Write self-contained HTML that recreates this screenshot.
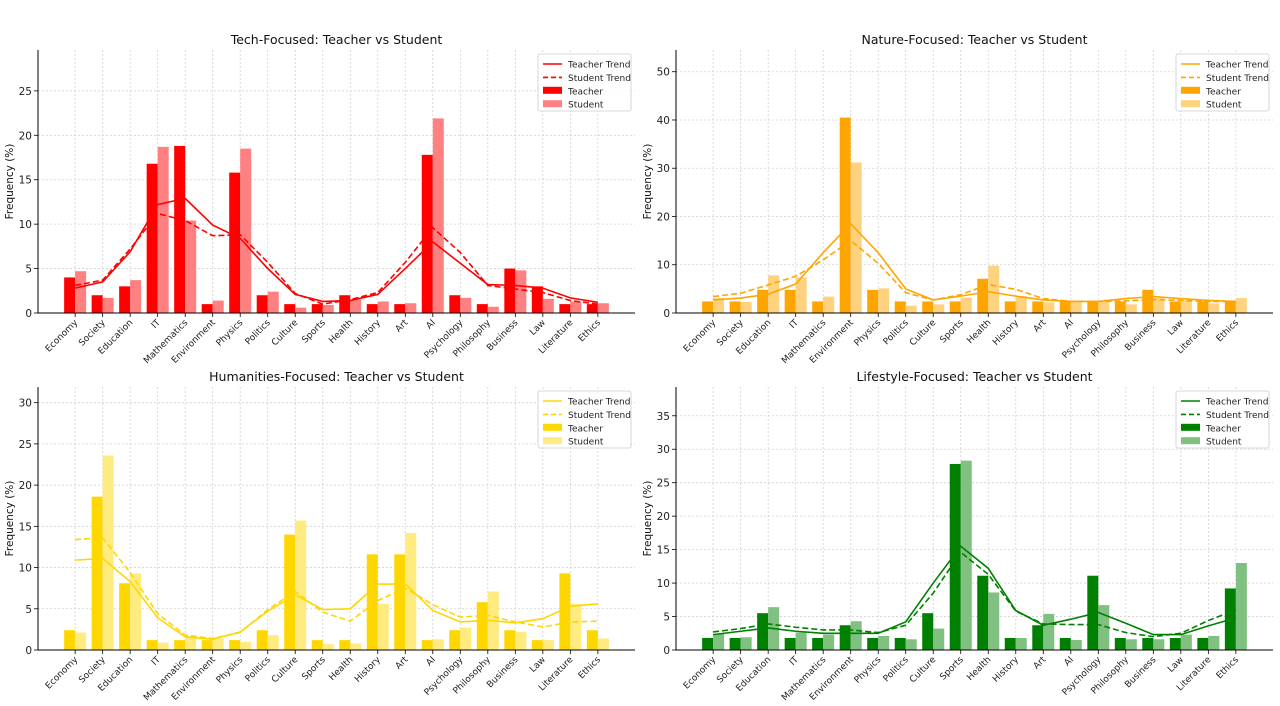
<!DOCTYPE html>
<html><head><meta charset="utf-8"><style>
body{margin:0;background:#fff;}
svg{display:block;font-family:"DejaVu Sans","Liberation Sans",sans-serif;}
</style></head><body>
<svg id="chart" width="1280" height="706" viewBox="0 0 1280 706"></svg>
<script>
const categories=["Economy","Society","Education","IT","Mathematics","Environment","Physics","Politics","Culture","Sports","Health","History","Art","AI","Psychology","Philosophy","Business","Law","Literature","Ethics"];
const techTeacher=[4,2,3,16.8,18.8,1,15.8,2,1,1,2,1,1,17.8,2,1,5,3,1,1];
const techStudent=[4.7,1.7,3.7,18.7,10.4,1.4,18.5,2.4,0.6,0.9,1.5,1.3,1.1,21.9,1.7,0.7,4.8,1.6,1.3,1.1];
const techTeacherTrend=[2.8,3.5,6.9,12.2,12.9,9.9,8.4,5.0,2.1,1.3,1.4,2.1,5.0,8.0,5.6,3.2,3.1,2.8,1.7,1.2];
const techStudentTrend=[3.1,3.7,7.2,11.2,10.4,8.7,8.8,5.7,2.2,1.0,1.5,2.3,5.7,9.6,6.8,3.1,2.7,2.3,1.4,1.0];
const natTeacher=[2.4,2.4,4.8,4.8,2.4,40.5,4.8,2.4,2.4,2.4,7.1,2.4,2.4,2.4,2.4,2.4,4.8,2.4,2.4,2.4];
const natStudent=[3.1,2.3,7.8,7.4,3.4,31.2,5.1,1.5,1.8,3.2,9.8,3.5,2.2,2.2,2.3,1.8,3.1,2.6,2.0,3.1];
const natTeacherTrend=[2.7,3.1,3.9,6.0,12.5,18.5,12.5,5.0,2.7,3.5,4.4,3.5,2.7,2.4,2.4,3.0,3.4,3.0,2.6,2.4];
const natStudentTrend=[3.4,4.1,5.8,7.6,11,15,10.3,4.2,2.7,3.8,5.9,4.9,3.0,2.4,2.4,2.5,2.8,2.6,2.4,2.4];
const humTeacher=[2.4,18.6,8.1,1.2,1.2,1.2,1.2,2.4,14.0,1.2,1.2,11.6,11.6,1.2,2.4,5.8,2.4,1.2,9.3,2.4];
const humStudent=[2.1,23.6,9.3,0.9,1.6,1.4,1.0,1.8,15.7,0.7,0.8,5.6,14.2,1.3,2.7,7.1,2.2,1.2,5.6,1.4];
const humTeacherTrend=[10.9,11.1,8.3,3.9,1.6,1.3,2.2,4.7,6.7,4.9,5.0,8.0,8.0,4.8,3.4,3.6,3.3,3.8,5.3,5.6];
const humStudentTrend=[13.4,13.6,9.4,4.4,1.8,1.4,2.1,4.9,7.1,4.6,3.5,6.0,7.5,5.5,4.0,4.2,3.4,2.8,3.4,3.5];
const lifeTeacher=[1.8,1.8,5.5,1.8,1.8,3.7,1.8,1.8,5.5,27.8,11.1,1.8,3.7,1.8,11.1,1.8,1.8,1.8,1.8,9.2];
const lifeStudent=[2.4,1.9,6.4,2.6,2.3,4.3,2.1,1.6,3.2,28.3,8.6,1.8,5.4,1.5,6.7,1.6,1.6,2.3,2.1,13.0];
const lifeTeacherTrend=[2.3,2.8,3.3,2.8,2.5,2.5,2.5,4.2,10,15.5,12.2,5.9,3.7,4.6,5.6,4.0,2.3,2.3,3.6,4.8];
const lifeStudentTrend=[2.7,3.2,3.9,3.4,3.0,3.0,2.6,3.7,8.5,14.6,11.3,5.8,3.9,3.8,3.8,2.6,2.0,2.5,4.4,6.0];
const techTicks=[0,5,10,15,20,25];
const natTicks=[0,10,20,30,40,50];
const humTicks=[0,5,10,15,20,25,30];
const lifeTicks=[0,5,10,15,20,25,30,35];

const NS="http://www.w3.org/2000/svg";
const svg=document.getElementById('chart');
function mk(tag,attrs,parent){const e=document.createElementNS(NS,tag);for(const k in attrs)e.setAttribute(k,attrs[k]);(parent||svg).appendChild(e);return e;}

function panel(cfg){
  const g=mk('g',{});
  
  
  const L=cfg.x0,R=cfg.x1,T=cfg.y0,B=cfg.y1,ymax=cfg.ymax;
  const n=categories.length;
  const pad=(R-L)/(n-1+2*1.35);
  const xs=i=>L+pad*1.35+i*pad;
  const ys=v=>B-v/ymax*(B-T);
  const bw=pad*0.4;
  categories.forEach((c,i)=>{const l=mk('line',{x1:xs(i),x2:xs(i),y1:T,y2:B,stroke:'#d0d0d0','stroke-width':0.8,'stroke-dasharray':'2,2'},g);
    
    });
  cfg.ticks.forEach(t=>{const y=ys(t);
    const l=mk('line',{x1:L,x2:R,y1:y,y2:y,stroke:'#d0d0d0','stroke-width':0.8,'stroke-dasharray':'2,2'},g);
    
    
    const tk=mk('line',{x1:L-4,x2:L,y1:y,y2:y,stroke:'#000','stroke-width':0.8},g);
    
    
    const tx=mk('text',{x:L-6,y:y+4,'text-anchor':'end','font-size':10.5,fill:'#222'},g);tx.textContent=t;
    
    });
  cfg.teacher.forEach((v,i)=>{const r=mk('rect',{x:xs(i)-bw,y:ys(v),width:bw,height:B-ys(v),fill:cfg.c1},g);
    
    });
  cfg.student.forEach((v,i)=>{const r=mk('rect',{x:xs(i),y:ys(v),width:bw,height:B-ys(v),fill:cfg.c2},g);
    
    });
  const p1=mk('polyline',{points:cfg.tTrend.map((v,i)=>xs(i)+','+ys(v)).join(' '),fill:'none',stroke:cfg.c1,'stroke-width':1.6},g);
  
  
  const p2=mk('polyline',{points:cfg.sTrend.map((v,i)=>xs(i)+','+ys(v)).join(' '),fill:'none',stroke:cfg.c1,'stroke-width':1.6,'stroke-dasharray':'6,3'},g);
  
  
  const sp1=mk('line',{x1:L,x2:L,y1:T,y2:B,stroke:'#000','stroke-width':1},g);
  
  
  const sp2=mk('line',{x1:L,x2:R,y1:B,y2:B,stroke:'#000','stroke-width':1},g);
  
  
  categories.forEach((c,i)=>{
    const tk=mk('line',{x1:xs(i),x2:xs(i),y1:B,y2:B+4,stroke:'#000','stroke-width':0.8},g);
    
    
    const x=xs(i)+3,y=B+10;
    const t=mk('text',{x:x,y:y,'text-anchor':'end','font-size':9,fill:'#222',transform:`rotate(-45 ${x} ${y})`},g);t.textContent=c;
    
    });
  const ti=mk('text',{x:(L+R)/2,y:T-6,'text-anchor':'middle','font-size':12.5,fill:'#111'},g);ti.textContent=cfg.title;
  
  
  const yl=mk('text',{x:0,y:0,'text-anchor':'middle','font-size':10.5,fill:'#111',transform:`translate(${L-25} ${(T+B)/2}) rotate(-90)`},g);yl.textContent='Frequency (%)';
  
  
  const lx=R-97,ly=T+4;
  const lg=mk('g',{},g);
  
  
  mk('rect',{x:lx,y:ly,width:93,height:57,fill:'#fff','fill-opacity':0.85,stroke:'#ccc','stroke-width':0.8,rx:2},lg);
  const items=[['Teacher Trend','line'],['Student Trend','dash'],['Teacher','bar1'],['Student','bar2']];
  items.forEach((it,k)=>{const yy=ly+10+k*13.4;
    const e=mk('g',{},lg);
    
    
    if(it[1]==='line')mk('line',{x1:lx+5,x2:lx+24,y1:yy,y2:yy,stroke:cfg.c1,'stroke-width':1.6},e);
    else if(it[1]==='dash')mk('line',{x1:lx+5,x2:lx+24,y1:yy,y2:yy,stroke:cfg.c1,'stroke-width':1.6,'stroke-dasharray':'5,3'},e);
    else mk('rect',{x:lx+5,y:yy-4,width:19,height:7,fill:it[1]==='bar1'?cfg.c1:cfg.c2},e);
    const t=mk('text',{x:lx+30,y:yy+3.5,'font-size':9,fill:'#222'},e);t.textContent=it[0];});
}
panel({name:'tech-focused-panel',title:'Tech-Focused: Teacher vs Student',x0:38,x1:635,y0:50,y1:313,ymax:29.6,ticks:techTicks,teacher:techTeacher,student:techStudent,tTrend:techTeacherTrend,sTrend:techStudentTrend,c1:'#ff0000',c2:'#ff8080'});
panel({name:'nature-focused-panel',title:'Nature-Focused: Teacher vs Student',x0:676,x1:1273,y0:50,y1:313,ymax:54.5,ticks:natTicks,teacher:natTeacher,student:natStudent,tTrend:natTeacherTrend,sTrend:natStudentTrend,c1:'#ffa500',c2:'#ffd280'});
panel({name:'humanities-focused-panel',title:'Humanities-Focused: Teacher vs Student',x0:38,x1:635,y0:387,y1:650,ymax:31.9,ticks:humTicks,teacher:humTeacher,student:humStudent,tTrend:humTeacherTrend,sTrend:humStudentTrend,c1:'#ffd700',c2:'#ffeb80'});
panel({name:'lifestyle-focused-panel',title:'Lifestyle-Focused: Teacher vs Student',x0:676,x1:1273,y0:387,y1:650,ymax:39.3,ticks:lifeTicks,teacher:lifeTeacher,student:lifeStudent,tTrend:lifeTeacherTrend,sTrend:lifeStudentTrend,c1:'#008000',c2:'#80c080'});
</script>
</body></html>
